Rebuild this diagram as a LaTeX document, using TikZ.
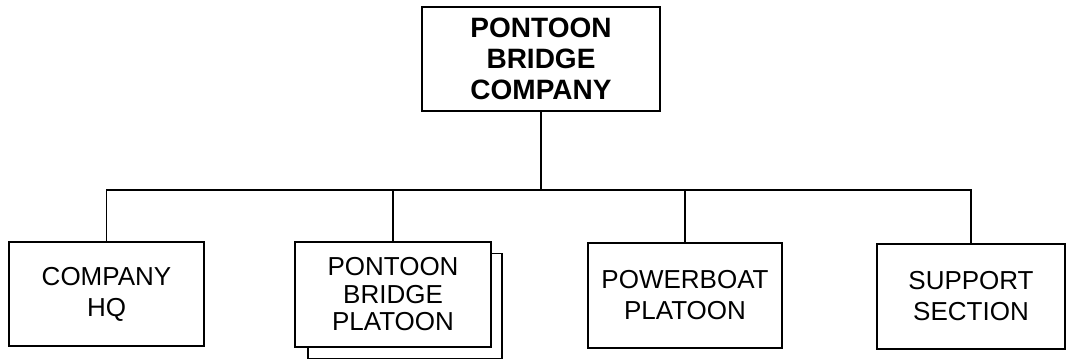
\documentclass[tikz,border=0pt]{standalone}
\usepackage{fontspec}
\setmainfont{Liberation Sans}
\begin{document}
\begin{tikzpicture}[x=1pt,y=-1pt,
  box/.style={draw=black,line width=1.5pt,fill=white,rectangle,align=center,inner sep=0pt,
    font=\fontsize{26}{31}\selectfont},
  tightbox/.style={box,font=\fontsize{26}{27.5}\selectfont},
  topbox/.style={box,font=\fontsize{28}{31}\selectfont\bfseries},
  conn/.style={draw=black,line width=1.5pt}]
\useasboundingbox (0,0) rectangle (1067,360);
\node[topbox,minimum width=238pt,minimum height=104pt] (top) at (541,59) {PONTOON\\BRIDGE\\COMPANY};
\node[box,minimum width=195pt,minimum height=104pt] (hq) at (106.5,294) {COMPANY\\HQ};
\node[box,minimum width=194pt,minimum height=105pt] (pbps) at (405,306) {};
\node[tightbox,minimum width=196pt,minimum height=105pt] (pbp) at (393,294.5) {PONTOON\\BRIDGE\\PLATOON};
\node[box,minimum width=194pt,minimum height=105pt] (pwr) at (685,295.5) {POWERBOAT\\PLATOON};
\node[box,minimum width=188pt,minimum height=105pt] (sup) at (971,296.5) {SUPPORT\\SECTION};
\coordinate (bus) at (541,190);
\draw[conn] (top.south) -- (bus);
\draw[conn] (hq.north) |- (bus) -| (sup.north);
\draw[conn] (pbp.north) -- (pbp.north |- bus);
\draw[conn] (pwr.north) -- (pwr.north |- bus);
\end{tikzpicture}
\end{document}
